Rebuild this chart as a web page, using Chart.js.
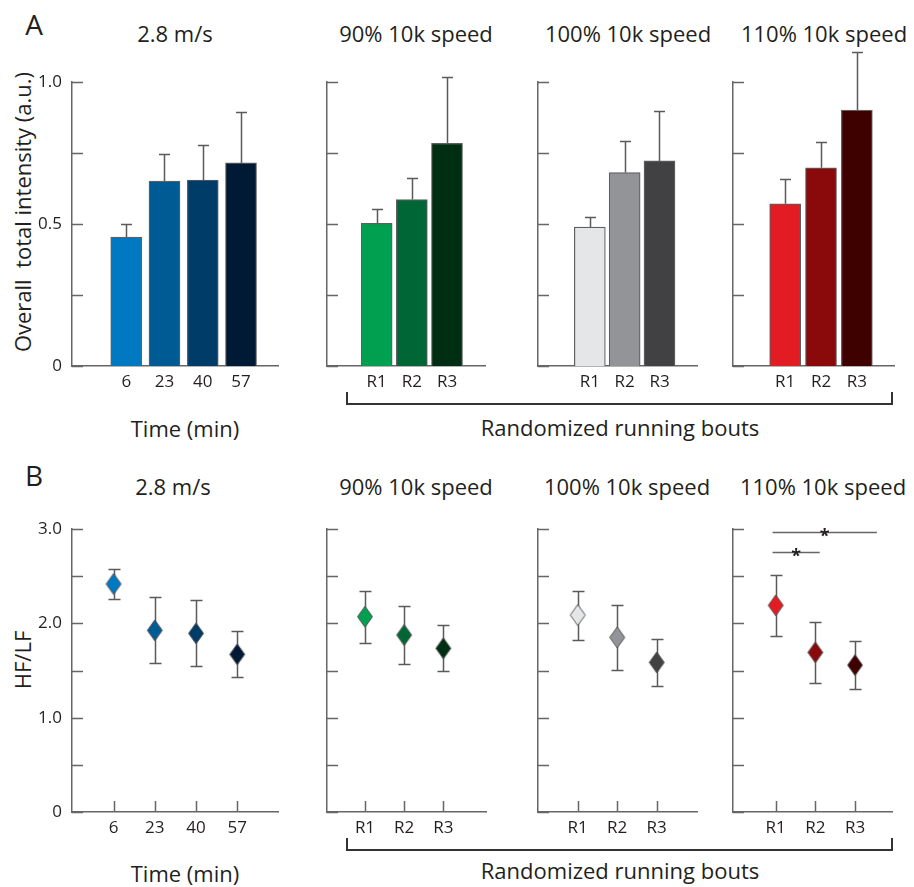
<!DOCTYPE html>
<html>
<head>
<meta charset="utf-8">
<script src="https://cdn.jsdelivr.net/npm/chart.js@4.4.1/dist/chart.umd.min.js"></script>
<style>
  body { margin: 0; background: #fff; }
  #fig { position: relative; width: 914px; height: 887px; font-family: 'Open Sans', sans-serif; color: #231f20; overflow: hidden; }
  #fig canvas { position: absolute; }
  .t { position: absolute; transform: translate(-50%, -50%); white-space: pre; line-height: 1; }
  .rot { transform: translate(-50%, -50%) rotate(-90deg); }
  .bracket { position: absolute; box-sizing: border-box; border: 2px solid #333; border-top: none; }
</style>
</head>
<body>
<div id="fig">
  <div class="t" style="left:34px; top:24px; font-size:28px;">A</div>
  <div class="t" style="left:34px; top:475px; font-size:28px;">B</div>

  <div class="t" style="left:175px; top:33px; font-size:22px;">2.8 m/s</div>
  <div class="t" style="left:416px; top:33px; font-size:22px;">90% 10k speed</div>
  <div class="t" style="left:628px; top:33px; font-size:22px;">100% 10k speed</div>
  <div class="t" style="left:824px; top:33px; font-size:22px;">110% 10k speed</div>

  <div class="t" style="left:173px; top:486px; font-size:22px;">2.8 m/s</div>
  <div class="t" style="left:416px; top:486px; font-size:22px;">90% 10k speed</div>
  <div class="t" style="left:627px; top:486px; font-size:22px;">100% 10k speed</div>
  <div class="t" style="left:823px; top:486px; font-size:22px;">110% 10k speed</div>

  <div class="t rot" style="left:22px; top:212px; font-size:22px;">Overall  total intensity (a.u.)</div>
  <div class="t rot" style="left:22px; top:660px; font-size:22px;">HF/LF</div>

  <div class="t" style="left:185px; top:428px; font-size:22px;">Time (min)</div>
  <div class="t" style="left:185px; top:873px; font-size:22px;">Time (min)</div>
  <div class="t" style="left:620px; top:427px; font-size:22px;">Randomized running bouts</div>
  <div class="t" style="left:620px; top:870px; font-size:22px;">Randomized running bouts</div>

  <div class="bracket" style="left:346px; top:392px; width:547px; height:13px;"></div>
  <div class="bracket" style="left:346px; top:838px; width:547px; height:13px;"></div>
</div>

<script>
// x categories
const timeLabels = ['6', '23', '40', '57'];
const boutLabels = ['R1', 'R2', 'R3'];

// A: overall total intensity (a.u.), mean and SE (upper whisker)
const intens28 = [0.454, 0.651, 0.655, 0.715];
const intens28Err = [0.046, 0.095, 0.123, 0.179];
const intens90 = [0.502, 0.586, 0.784];
const intens90Err = [0.051, 0.077, 0.235];
const intens100 = [0.489, 0.681, 0.722];
const intens100Err = [0.037, 0.111, 0.177];
const intens110 = [0.571, 0.698, 0.901];
const intens110Err = [0.087, 0.090, 0.206];

// B: HF/LF, mean and SE
const hflf28 = [2.417, 1.926, 1.894, 1.671];
const hflf28Err = [0.160, 0.349, 0.349, 0.243];
const hflf90 = [2.070, 1.876, 1.735];
const hflf90Err = [0.278, 0.310, 0.243];
const hflf100 = [2.088, 1.851, 1.586];
const hflf100Err = [0.260, 0.342, 0.246];
const hflf110 = [2.191, 1.692, 1.557];
const hflf110Err = [0.324, 0.320, 0.255];

// significance bars in the 110% HF/LF panel (R1 vs R2, R1 vs R3)
const sig110 = [
    { from: -0.08, to: 1.11, y: 2.76 },
    { from: -0.08, to: 2.55, y: 2.97 }
];

// y ticks
const yTicksA = [0, 0.25, 0.5, 0.75, 1.0];
const yTickLabelsA = ['0', '', '0.5', '', '1.0'];
const yTicksB = [0, 0.5, 1.0, 1.5, 2.0, 2.5, 3.0];
const yTickLabelsB = ['0', '', '1.0', '', '2.0', '', '3.0'];

// colours
const blues = ['#0079c2', '#005b94', '#003c68', '#001a36'];
const greens = ['#00a050', '#006635', '#002e12'];
const grays = ['#e5e6e8', '#939497', '#414143'];
const reds = ['#e31b23', '#8a0a0c', '#3f0000'];

const FONT = "'Open Sans', sans-serif";
const TXT = '#231f20';
const AXIS = '#666';
const YW = 50, PAD_T = 70, XH = 40, PAD_R = 14;

const fig = document.getElementById('fig');

function addCanvas(x0, x1, yTop, yBot) {
    const c = document.createElement('canvas');
    const w = YW + (x1 - x0) + PAD_R;
    const h = PAD_T + (yBot - yTop) + XH;
    c.width = w; c.height = h;
    c.style.left = (x0 - YW) + 'px';
    c.style.top = (yTop - PAD_T) + 'px';
    c.style.width = w + 'px';
    c.style.height = h + 'px';
    fig.appendChild(c);
    return c;
}

// little diamond marker
function diamond(color) {
    const c = document.createElement('canvas');
    c.width = 18; c.height = 23;
    const ctx = c.getContext('2d');
    ctx.beginPath();
    ctx.moveTo(9, 1);
    ctx.lineTo(16.5, 11.5);
    ctx.lineTo(9, 22);
    ctx.lineTo(1.5, 11.5);
    ctx.closePath();
    ctx.fillStyle = color;
    ctx.fill();
    ctx.strokeStyle = '#555';
    ctx.lineWidth = 1;
    ctx.stroke();
    return c;
}

function drawErrors(chart, opts) {
    const ctx = chart.ctx;
    const meta = chart.getDatasetMeta(0);
    const ds = chart.data.datasets[0];
    const ys = chart.scales.y;
    ctx.save();
    ctx.strokeStyle = '#5a5a5a';
    ctx.lineWidth = 1.5;
    meta.data.forEach((el, i) => {
        const v = ds.data[i].y, e = opts.err[i];
        const x = Math.round(el.x) + 0.5;
        const top = Math.round(ys.getPixelForValue(v + e)) + 0.5;
        const bot = opts.upOnly ? ys.getPixelForValue(v) : Math.round(ys.getPixelForValue(v - e)) + 0.5;
        ctx.beginPath();
        ctx.moveTo(x, top); ctx.lineTo(x, bot);
        ctx.moveTo(x - opts.cap / 2, top); ctx.lineTo(x + opts.cap / 2, top);
        if (!opts.upOnly) {
            ctx.moveTo(x - opts.cap / 2, bot); ctx.lineTo(x + opts.cap / 2, bot);
        }
        ctx.stroke();
    });
    ctx.restore();
}

const errorBars = {
    id: 'errorBars',
    beforeDatasetsDraw(chart, args, opts) { if (opts.under) drawErrors(chart, opts); },
    afterDatasetsDraw(chart, args, opts) { if (!opts.under) drawErrors(chart, opts); }
};

// ticks pointing into the plot, plus significance brackets
const inwardTicks = {
    id: 'inwardTicks',
    afterDraw(chart, args, opts) {
        const ctx = chart.ctx;
        const { left, bottom } = chart.chartArea;
        ctx.save();
        ctx.strokeStyle = AXIS;
        ctx.lineWidth = 1.5;
        ctx.beginPath();
        chart.scales.y.ticks.forEach(t => {
            const y = Math.round(chart.scales.y.getPixelForValue(t.value)) + 0.5;
            ctx.moveTo(left, y); ctx.lineTo(left + 11, y);
        });
        if (opts.xTicks) {
            chart.scales.x.ticks.forEach(t => {
                const x = Math.round(chart.scales.x.getPixelForValue(t.value)) + 0.5;
                ctx.moveTo(x, bottom); ctx.lineTo(x, bottom - 11);
            });
        }
        ctx.stroke();
        (opts.sig || []).forEach(s => {
            const xs = chart.scales.x, ys = chart.scales.y;
            const x1 = xs.getPixelForValue(s.from), x2 = xs.getPixelForValue(s.to);
            const y = Math.round(ys.getPixelForValue(s.y)) + 0.5;
            ctx.beginPath();
            ctx.moveTo(x1, y); ctx.lineTo(x2, y);
            ctx.stroke();
            ctx.fillStyle = TXT;
            ctx.font = 'bold 18px ' + FONT;
            ctx.textAlign = 'center';
            ctx.textBaseline = 'alphabetic';
            ctx.fillText('*', (x1 + x2) / 2, y + 9);
        });
        ctx.restore();
    }
};

function scales(labels, xmin, xmax, ymax, yTicks, yLabels, showY) {
    return {
        x: {
            type: 'linear', min: xmin, max: xmax,
            afterBuildTicks: s => { s.ticks = labels.map((_, i) => ({ value: i })); },
            afterFit: s => { s.height = XH; },
            grid: { display: false, drawTicks: false },
            border: { display: true, color: AXIS, width: 1.5 },
            ticks: {
                autoSkip: false, maxRotation: 0, padding: 6, color: TXT,
                font: { size: 17, family: FONT },
                callback: v => labels[v] ?? ''
            }
        },
        y: {
            min: 0, max: ymax,
            afterBuildTicks: s => { s.ticks = yTicks.map(v => ({ value: v })); },
            afterFit: s => { s.width = YW; },
            grid: { display: false, drawTicks: false },
            border: { display: true, color: AXIS, width: 1.5 },
            ticks: {
                padding: 10, color: TXT,
                font: { size: 17, family: FONT },
                callback: (v, i) => showY ? yLabels[i] : ''
            }
        }
    };
}

const common = {
    responsive: false,
    animation: false,
    events: [],
    layout: { padding: { top: PAD_T, right: PAD_R, left: 0, bottom: 0 } }
};

function barPanel(x0, x1, xmin, xmax, labels, vals, errs, colors, showY) {
    new Chart(addCanvas(x0, x1, 82, 366), {
        type: 'bar',
        data: {
            datasets: [{
                data: vals.map((v, i) => ({ x: i, y: v })),
                backgroundColor: colors,
                borderColor: '#5f5f5f',
                borderWidth: 1.2,
                barThickness: 31,
                clip: false
            }]
        },
        options: {
            ...common,
            scales: scales(labels, xmin, xmax, 1.0, yTicksA, yTickLabelsA, showY),
            plugins: {
                legend: { display: false },
                tooltip: { enabled: false },
                errorBars: { err: errs, upOnly: true, cap: 11, under: false },
                inwardTicks: { xTicks: false }
            }
        },
        plugins: [errorBars, inwardTicks]
    });
}

function pointPanel(x0, x1, xmin, xmax, labels, vals, errs, colors, showY, sig) {
    new Chart(addCanvas(x0, x1, 529, 812), {
        type: 'scatter',
        data: {
            datasets: [{
                data: vals.map((v, i) => ({ x: i, y: v })),
                pointStyle: colors.map(diamond),
                pointRadius: 9,
                clip: false
            }]
        },
        options: {
            ...common,
            scales: scales(labels, xmin, xmax, 3.0, yTicksB, yTickLabelsB, showY),
            plugins: {
                legend: { display: false },
                tooltip: { enabled: false },
                errorBars: { err: errs, upOnly: false, cap: 12, under: true },
                inwardTicks: { xTicks: true, sig: sig }
            }
        },
        plugins: [errorBars, inwardTicks]
    });
}

barPanel(72, 278, -0.745, 3.294, timeLabels, intens28, intens28Err, blues, true);
barPanel(327, 485, -0.664, 2.332, boutLabels, intens90, intens90Err, greens, false);
barPanel(538, 697, -0.727, 2.316, boutLabels, intens100, intens100Err, grays, false);
barPanel(733, 894, -0.707, 2.288, boutLabels, intens110, intens110Err, reds, false);

pointPanel(72, 278, -1.01, 3.99, timeLabels, hflf28, hflf28Err, blues, true);
pointPanel(327, 486, -0.97, 3.09, boutLabels, hflf90, hflf90Err, greens, false);
pointPanel(538, 697, -1.005, 3.02, boutLabels, hflf100, hflf100Err, grays, false);
pointPanel(733, 892, -1.077, 2.933, boutLabels, hflf110, hflf110Err, reds, false, sig110);
</script>
</body>
</html>
